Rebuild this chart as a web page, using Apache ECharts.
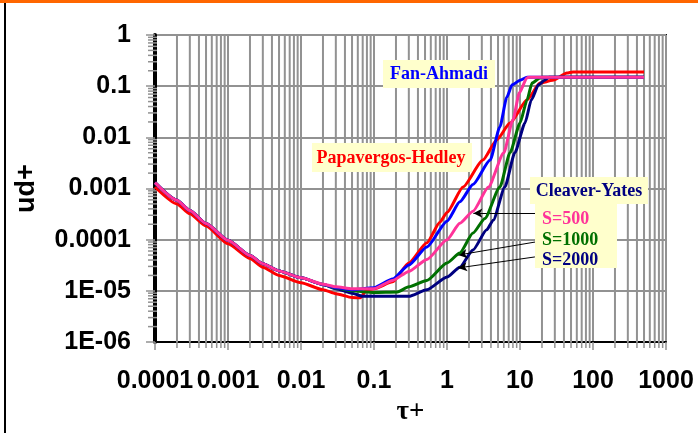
<!DOCTYPE html>
<html>
<head>
<meta charset="utf-8">
<script src="https://cdn.jsdelivr.net/npm/echarts@6/dist/echarts.min.js"></script>
<style>
  html, body { margin: 0; padding: 0; background: #fff; }
  #chart { width: 698px; height: 433px; }
</style>
</head>
<body>
<div id="chart"></div>
<script>
// Tick labels of the two log axes
const xTickLabels = ['0.0001', '0.001', '0.01', '0.1', '1', '10', '100', '1000'];
const yTickLabels = ['1E-06', '1E-05', '0.0001', '0.001', '0.01', '0.1', '1'];

// Papavergos-Hedley
const tauPH = [1e-4, 2e-4, 3e-4, 5e-4, 1e-3, 2e-3, 3e-3, 5e-3, 0.01, 0.02, 0.03, 0.05, 0.065, 0.08, 0.1, 0.18, 0.3, 0.53, 0.8, 1, 1.66, 3.1, 4.8, 7.3, 12.5, 18.8, 28, 44, 53, 500];
const udPH  = [1.07e-3, 5e-4, 3.2e-4, 1.85e-4, 8.3e-5, 4.3e-5, 2.9e-5, 2e-5, 1.44e-5, 1.05e-5, 8.8e-6, 7.4e-6, 7.3e-6, 1.05e-5, 1.1e-5, 1.5e-5, 3.5e-5, 8.7e-5, 2.2e-4, 3.4e-4, 1.07e-3, 3.6e-3, 8.9e-3, 0.019, 0.054, 0.115, 0.13, 0.18, 0.19, 0.19];

// Fan-Ahmadi
const tauFA = [1e-4, 2e-4, 3e-4, 5e-4, 1e-3, 2e-3, 3e-3, 5e-3, 0.01, 0.02, 0.03, 0.05, 0.1, 0.18, 0.3, 0.53, 1, 1.5, 2.27, 3.9, 5.3, 6.6, 7.8, 10, 12.5, 500];
const udFA  = [1.3e-3, 5.9e-4, 3.7e-4, 2.07e-4, 9.7e-5, 4.9e-5, 3.4e-5, 2.45e-5, 1.8e-5, 1.33e-5, 1.15e-5, 1.05e-5, 1.15e-5, 1.7e-5, 3.2e-5, 7.2e-5, 2.3e-4, 5.5e-4, 1.2e-3, 3.6e-3, 0.016, 0.061, 0.106, 0.13, 0.15, 0.15];

// Cleaver-Yates, S=500
const tauS500 = [1e-4, 2e-4, 3e-4, 5e-4, 1e-3, 2e-3, 3e-3, 5e-3, 0.01, 0.02, 0.03, 0.05, 0.1, 0.18, 0.3, 0.53, 1, 1.5, 2.27, 3.7, 6, 8, 9.8, 12.4, 13.5, 500];
const udS500  = [1.3e-3, 5.9e-4, 3.7e-4, 2.07e-4, 9.7e-5, 4.9e-5, 3.4e-5, 2.45e-5, 1.8e-5, 1.35e-5, 1.2e-5, 1.1e-5, 1.1e-5, 1.6e-5, 2.4e-5, 4.1e-5, 1e-4, 2.1e-4, 3.6e-4, 1.07e-3, 5e-3, 0.022, 0.074, 0.145, 0.15, 0.15];

// Cleaver-Yates, S=1000
const tauS1000 = [1e-4, 2e-4, 3e-4, 5e-4, 1e-3, 2e-3, 3e-3, 5e-3, 0.01, 0.02, 0.03, 0.05, 0.1, 0.21, 0.3, 0.53, 1, 1.5, 2.27, 3.3, 5.3, 7.3, 10, 12.5, 14.6, 18.8, 20, 500];
const udS1000  = [1.3e-3, 5.9e-4, 3.7e-4, 2.07e-4, 9.7e-5, 4.9e-5, 3.4e-5, 2.45e-5, 1.8e-5, 1.33e-5, 1.13e-5, 1e-5, 9.3e-6, 9.5e-6, 1.2e-5, 1.6e-5, 3.5e-5, 5.5e-5, 1.35e-4, 2.6e-4, 1.07e-3, 5e-3, 0.019, 0.054, 0.115, 0.145, 0.15, 0.15];

// Cleaver-Yates, S=2000
const tauS2000 = [1e-4, 2e-4, 3e-4, 5e-4, 1e-3, 2e-3, 3e-3, 5e-3, 0.01, 0.02, 0.03, 0.05, 0.07, 0.3, 0.53, 1, 1.5, 2.27, 3.5, 4.3, 6.2, 8.5, 11.7, 14.3, 17.9, 21.7, 25, 500];
const udS2000  = [1.3e-3, 5.9e-4, 3.7e-4, 2.07e-4, 9.7e-5, 4.9e-5, 3.4e-5, 2.45e-5, 1.8e-5, 1.33e-5, 1.1e-5, 9e-6, 7.8e-6, 7.8e-6, 1.05e-5, 1.86e-5, 2.9e-5, 6.3e-5, 1.56e-4, 2.4e-4, 1.07e-3, 5e-3, 0.019, 0.054, 0.106, 0.13, 0.15, 0.15];

// Arrow pointers from the S labels to their curves: [from tau, from ud, to tau, to ud]
const arrowS500  = [17, 3.3e-4, 2.3, 3.3e-4];
const arrowS1000 = [17, 9.1e-5, 1.42, 5e-5];
const arrowS2000 = [16, 4.6e-5, 1.42, 2.8e-5];

// Axis extents and minor-tick mantissas
const X_MIN = 1e-4, X_MAX = 1000, Y_MIN = 1e-6, Y_MAX = 1;
const mantissas = [2, 3, 4, 5, 6, 7, 8, 9];

const xMinor = [];
for (let d = -4; d < 3; d++) mantissas.forEach(m => xMinor.push(m * Math.pow(10, d)));
const yMinor = [];
for (let d = -6; d < 0; d++) mantissas.forEach(m => yMinor.push(m * Math.pow(10, d)));

const zip = (a, b) => a.map((v, i) => [v, b[i]]);
const GRID_GRAY = '#929292';
const SANS = 'Liberation Sans, Arial, sans-serif';
const SERIF = 'Liberation Serif, Times New Roman, serif';

function curve(name, xs, ys, color, z) {
  return {
    name, type: 'line', data: zip(xs, ys), showSymbol: false, z,
    smooth: 0.2, smoothMonotone: 'x',
    lineStyle: { color, width: 3 }, itemStyle: { color }
  };
}

function arrow(a) {
  return [{ coord: [a[0], a[1]] }, { coord: [a[2], a[3]] }];
}

const chart = echarts.init(document.getElementById('chart'), null, { renderer: 'canvas' });

const option = {
  backgroundColor: '#fff',
  animation: false,
  grid: { left: 155, right: 32, top: 35, bottom: 91, show: true, borderColor: '#111', borderWidth: 2, backgroundColor: '#fff' },
  xAxis: {
    type: 'log', logBase: 10, min: X_MIN, max: X_MAX,
    name: 'τ+', nameLocation: 'middle', nameGap: 57,
    nameTextStyle: { fontFamily: SERIF, fontWeight: 'bold', fontSize: 27, color: '#000' },
    axisLine: { show: true, onZero: false, lineStyle: { color: '#000', width: 2 } },
    axisTick: { show: true, inside: false, length: 8, lineStyle: { color: GRID_GRAY, width: 1.5 } },
    axisLabel: {
      margin: 27, fontFamily: SANS, fontWeight: 'bold', fontSize: 25, color: '#000',
      showMinLabel: true, showMaxLabel: true,
      formatter: v => xTickLabels[Math.round(Math.log10(v)) + 4]
    },
    splitLine: { show: true, lineStyle: { color: GRID_GRAY, width: 2 } },
    minorTick: { show: false }, minorSplitLine: { show: false }
  },
  yAxis: {
    type: 'log', logBase: 10, min: Y_MIN, max: Y_MAX,
    name: 'ud+', nameLocation: 'middle', nameGap: 115, nameRotate: 90,
    nameTextStyle: { fontFamily: SANS, fontWeight: 'bold', fontSize: 27, color: '#000' },
    axisLine: { show: true, onZero: false, lineStyle: { color: '#000', width: 4 } },
    axisTick: { show: true, inside: false, length: 9, lineStyle: { color: GRID_GRAY, width: 1.5 } },
    axisLabel: {
      margin: 24, fontFamily: SANS, fontWeight: 'bold', fontSize: 25, color: '#000',
      showMinLabel: true, showMaxLabel: true,
      formatter: v => yTickLabels[Math.round(Math.log10(v)) + 6]
    },
    splitLine: { show: true, lineStyle: { color: GRID_GRAY, width: 2 } },
    minorTick: { show: false }, minorSplitLine: { show: false }
  },
  series: [
    {
      // minor vertical grid lines with their ticks below the x axis
      type: 'custom', silent: true, clip: false, z: 1,
      data: xMinor.map(v => [v, Y_MIN]),
      renderItem(params, api) {
        const v = api.value(0);
        const top = api.coord([v, Y_MAX]);
        const bot = api.coord([v, Y_MIN]);
        return {
          type: 'group', children: [
            { type: 'line', shape: { x1: top[0], y1: top[1], x2: bot[0], y2: bot[1] }, style: { stroke: GRID_GRAY, lineWidth: 2 } },
            { type: 'line', shape: { x1: bot[0], y1: bot[1], x2: bot[0], y2: bot[1] + 6 }, style: { stroke: GRID_GRAY, lineWidth: 1.5 } }
          ]
        };
      }
    },
    {
      // minor ticks on the y axis
      type: 'custom', silent: true, clip: false, z: 1,
      data: yMinor.map(v => [X_MIN, v]),
      renderItem(params, api) {
        const p = api.coord([X_MIN, api.value(1)]);
        return { type: 'line', shape: { x1: p[0] - 7, y1: p[1], x2: p[0] + 2, y2: p[1] }, style: { stroke: GRID_GRAY, lineWidth: 1.5 } };
      }
    },
    curve('Papavergos-Hedley', tauPH, udPH, '#FF0000', 3),
    curve('S=2000', tauS2000, udS2000, '#000080', 4),
    curve('S=1000', tauS1000, udS1000, '#007000', 5),
    curve('Fan-Ahmadi', tauFA, udFA, '#0000FF', 6),
    Object.assign(curve('S=500', tauS500, udS500, '#FF3399', 7), {
      markLine: {
        silent: true, symbol: ['none', 'arrow'], symbolSize: [7, 9],
        label: { show: false },
        lineStyle: { color: '#000', width: 1, type: 'solid' },
        emphasis: { disabled: true },
        data: [arrow(arrowS500), arrow(arrowS1000), arrow(arrowS2000)]
      }
    })
  ],
  graphic: [
    { type: 'rect', left: 0, top: 0, z: 100, shape: { width: 698, height: 3 }, style: { fill: '#FF6600' } },
    { type: 'rect', left: 4, top: 3, z: 100, shape: { width: 2, height: 430 }, style: { fill: '#000' } },

    { type: 'rect', left: 383, top: 60, z: 50, shape: { width: 112, height: 28 }, style: { fill: '#FFFFCC' } },
    { type: 'text', x: 439, y: 74, z: 51, style: { text: 'Fan-Ahmadi', fill: '#0000FF', font: 'bold 18px ' + SERIF, align: 'center', verticalAlign: 'middle' } },

    { type: 'rect', left: 312, top: 143, z: 50, shape: { width: 160, height: 29 }, style: { fill: '#FFFFCC' } },
    { type: 'text', x: 391, y: 158, z: 51, style: { text: 'Papavergos-Hedley', fill: '#FF0000', font: 'bold 18px ' + SERIF, align: 'center', verticalAlign: 'middle' } },

    { type: 'rect', left: 530, top: 177, z: 50, shape: { width: 118, height: 27 }, style: { fill: '#FFFFCC' } },
    { type: 'text', x: 589, y: 191, z: 51, style: { text: 'Cleaver-Yates', fill: '#000080', font: 'bold 18px ' + SERIF, align: 'center', verticalAlign: 'middle' } },

    { type: 'rect', left: 535, top: 204, z: 50, shape: { width: 82, height: 64 }, style: { fill: '#FFFFCC' } },
    { type: 'text', x: 542, y: 219, z: 51, style: { text: 'S=500', fill: '#FF3399', font: 'bold 18px ' + SERIF, align: 'left', verticalAlign: 'middle' } },
    { type: 'text', x: 542, y: 240, z: 51, style: { text: 'S=1000', fill: '#007000', font: 'bold 18px ' + SERIF, align: 'left', verticalAlign: 'middle' } },
    { type: 'text', x: 542, y: 260, z: 51, style: { text: 'S=2000', fill: '#000080', font: 'bold 18px ' + SERIF, align: 'left', verticalAlign: 'middle' } }
  ]
};

chart.setOption(option);
</script>
</body>
</html>
